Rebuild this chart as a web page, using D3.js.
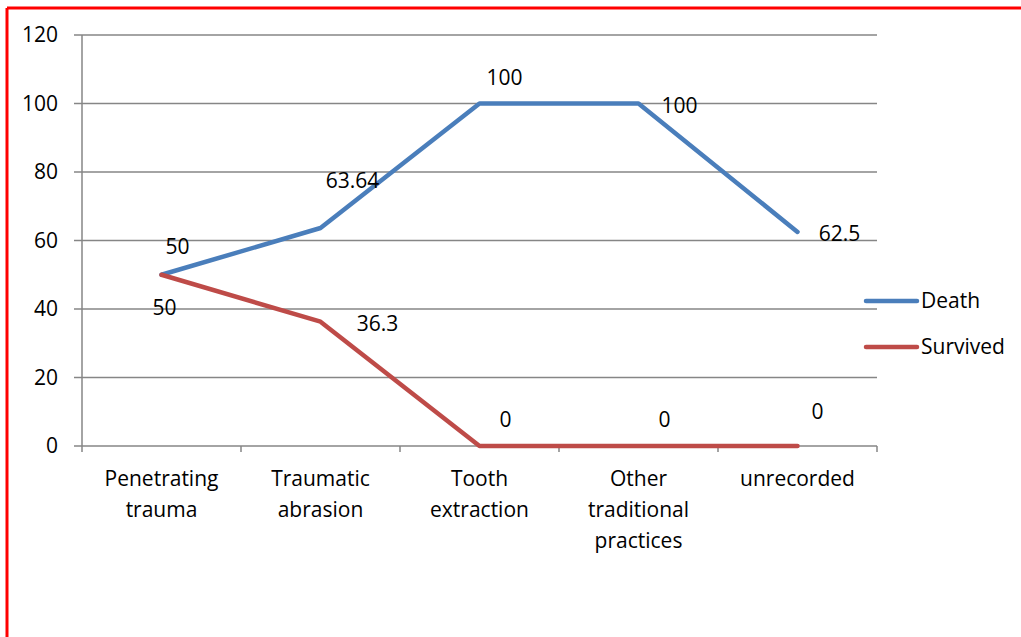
<!DOCTYPE html>
<html><head><meta charset="utf-8">
<script src="https://cdn.jsdelivr.net/npm/d3@7"></script>
<style>body{margin:0;background:#fff}svg{display:block}text{font-family:"Open Sans","Noto Sans",sans-serif;fill:#000}</style>
</head><body><svg id="c" width="1021" height="637"></svg>
<script>
const categories = ["Penetrating\ntrauma","Traumatic\nabrasion","Tooth\nextraction","Other\ntraditional\npractices","unrecorded"];
const death = [50, 63.64, 100, 100, 62.5];
const survived = [50, 36.3, 0, 0, 0];
const deathLabels = ["50","63.64","100","100","62.5"];
const survivedLabels = ["50","36.3","0","0","0"];
const yTicks = [0,20,40,60,80,100,120];
const seriesNames = ["Death","Survived"];

const svg = d3.select("#c");
const colors = ["#4A7EBB","#BE4B48"];
const fs = "21px";
// border
svg.append("line").attr("x1",7).attr("x2",1021).attr("y1",8).attr("y2",8).attr("stroke","#FF0000").attr("stroke-width",3);
svg.append("line").attr("x1",7).attr("x2",7).attr("y1",8).attr("y2",637).attr("stroke","#FF0000").attr("stroke-width",3);

const x = d3.scaleBand().domain(categories).range([82,877]).padding(0);
const y = d3.scaleLinear().domain([0,120]).range([446,35]);
const cx = c => x(c) + x.bandwidth()/2;

const g = svg.append("g");
g.selectAll("line.grid").data(yTicks).join("line")
 .attr("x1",74).attr("x2",877).attr("y1",d=>y(d)).attr("y2",d=>y(d))
 .attr("stroke","#868686").attr("stroke-width",1.5);
g.append("line").attr("x1",82).attr("x2",82).attr("y1",y(120)).attr("y2",y(0)).attr("stroke","#868686").attr("stroke-width",1.5);
const bounds = categories.map(c=>x(c)).concat([877]);
g.selectAll("line.xt").data(bounds).join("line")
 .attr("x1",d=>d).attr("x2",d=>d).attr("y1",y(0)).attr("y2",y(0)+6)
 .attr("stroke","#868686").attr("stroke-width",1.5);
g.selectAll("text.yl").data(yTicks).join("text")
 .attr("x",58).attr("y",d=>y(d)).attr("dy","0.35em").attr("text-anchor","end")
 .style("font-size",fs).text(d=>d);
categories.forEach(c=>{
  const t = g.append("text").attr("text-anchor","middle").style("font-size",fs);
  c.split("\n").forEach((ln,i)=>{
    t.append("tspan").attr("x",cx(c)).attr("y",y(0)+40+i*31).text(ln);
  });
});
const line = d3.line().x((d,i)=>cx(categories[i])).y(d=>y(d));
[death,survived].forEach((s,k)=>{
  svg.append("path").datum(s).attr("d",line).attr("fill","none")
   .attr("stroke",colors[k]).attr("stroke-width",4.5).attr("stroke-linejoin","round").attr("stroke-linecap","round");
});
const dOff = [[16,-28],[32,-47],[25,-26],[41,2],[42,2]];
const sOff = [[3,33],[57,2],[26,-26],[26,-26],[20,-34]];
death.forEach((v,i)=>{
  svg.append("text").attr("x",cx(categories[i])+dOff[i][0]).attr("y",y(v)+dOff[i][1]).attr("dy","0.35em")
   .attr("text-anchor","middle").style("font-size",fs).text(deathLabels[i]);
});
survived.forEach((v,i)=>{
  svg.append("text").attr("x",cx(categories[i])+sOff[i][0]).attr("y",y(v)+sOff[i][1]).attr("dy","0.35em")
   .attr("text-anchor","middle").style("font-size",fs).text(survivedLabels[i]);
});
seriesNames.forEach((n,k)=>{
  const ly = 301 + k*46;
  svg.append("line").attr("x1",866).attr("x2",917).attr("y1",ly).attr("y2",ly)
   .attr("stroke",colors[k]).attr("stroke-width",4.5).attr("stroke-linecap","round");
  svg.append("text").attr("x",921).attr("y",ly).attr("dy","0.35em").style("font-size",fs).text(n);
});
</script></body></html>
